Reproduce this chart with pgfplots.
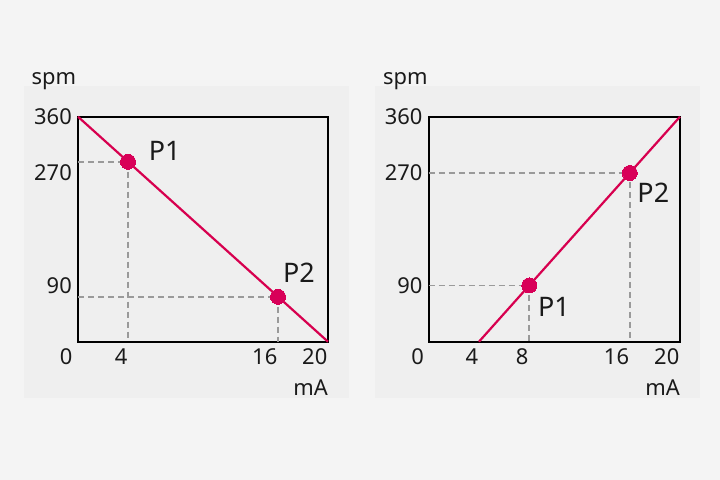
\documentclass[border=0pt]{standalone}
\usepackage{pgfplots}
\pgfplotsset{compat=1.18}
\usepackage{fontspec}
\setmainfont{Noto Sans}
\definecolor{pagebg}{HTML}{F4F4F4}
\definecolor{panelbg}{HTML}{EFEFEF}
\definecolor{crim}{HTML}{D7004F}
\definecolor{dotc}{HTML}{D80058}
\definecolor{dashgray}{HTML}{9A9A9A}
\definecolor{txt}{HTML}{1A1A1A}
\pgfplotsset{panel/.style={
  scale only axis, width=250bp, height=225bp,
  xmin=0,xmax=20,ymin=0,ymax=360,
  axis background/.style={fill=panelbg},
  axis line style={line width=2bp, black},
  major tick length=0pt,
  ytick={90,270,360},
  tick label style={font=\fontsize{22}{24}\selectfont, text=txt, inner sep=0pt},
  xticklabel style={anchor=north east, yshift=-6.5bp, xshift=-0.5bp},
  yticklabel style={anchor=east, xshift=-6bp},
  /pgf/number format/assume math mode=true,
  clip=false,
  anchor=south west,
}}
\tikzset{dashl/.style={dashgray, line width=1.8bp, dash pattern=on 6bp off 4bp},
  mainl/.style={crim, line width=2.2bp},
  dots/.style={dotc, only marks, mark=*, mark size=7.5bp, mark options={draw=dotc, fill=dotc, line width=0pt}},
  plab/.style={anchor=base west, inner sep=0pt, font=\fontsize{27}{30}\selectfont, text=txt},
  alab/.style={inner sep=0pt, font=\fontsize{22}{24}\selectfont, text=txt}}
\begin{document}
\begin{tikzpicture}
\fill[pagebg] (0,0) rectangle (720bp,-480bp);
\fill[panelbg] (24bp,-86bp) rectangle (349bp,-398bp);
\fill[panelbg] (375bp,-86bp) rectangle (700bp,-398bp);
\node[alab, anchor=base west] at (31.5bp,-84bp) {spm};
\node[alab, anchor=base west] at (383bp,-84bp) {spm};
\node[alab, anchor=base east] at (328bp,-395bp) {mA};
\node[alab, anchor=base east] at (680bp,-395bp) {mA};
\begin{axis}[panel, at={(78bp,-341.7bp)}, width=250bp, xtick={4,16,20}]
\addplot[dashl] coordinates {(0,288) (4,288) (4,0)};
\addplot[dashl] coordinates {(0,72) (16,72) (16,0)};
\addplot[mainl] coordinates {(0,360) (20,0)};
\addplot[dots] coordinates {(4,288) (16,72)};
\node[alab, anchor=north east, xshift=-5.5bp, yshift=-6.5bp] at (axis cs:0,0) {0};
\node[plab] at (axis cs:5.65,290) {P1};
\node[plab] at (axis cs:16.4,95) {P2};
\end{axis}
\begin{axis}[panel, at={(428.7bp,-341.7bp)}, width=251.3bp, xtick={4,8,16,20}]
\addplot[dashl] coordinates {(0,90) (8,90) (8,0)};
\addplot[dashl] coordinates {(0,270) (16,270) (16,0)};
\addplot[mainl] coordinates {(4,0) (20,360)};
\addplot[dots] coordinates {(8,90) (16,270)};
\node[alab, anchor=north east, xshift=-4.7bp, yshift=-6.5bp] at (axis cs:0,0) {0};
\node[plab] at (axis cs:8.7,40) {P1};
\node[plab] at (axis cs:16.6,222) {P2};
\end{axis}
\pgfresetboundingbox
\useasboundingbox (0,0) rectangle (720bp,-480bp);
\end{tikzpicture}
\end{document}
